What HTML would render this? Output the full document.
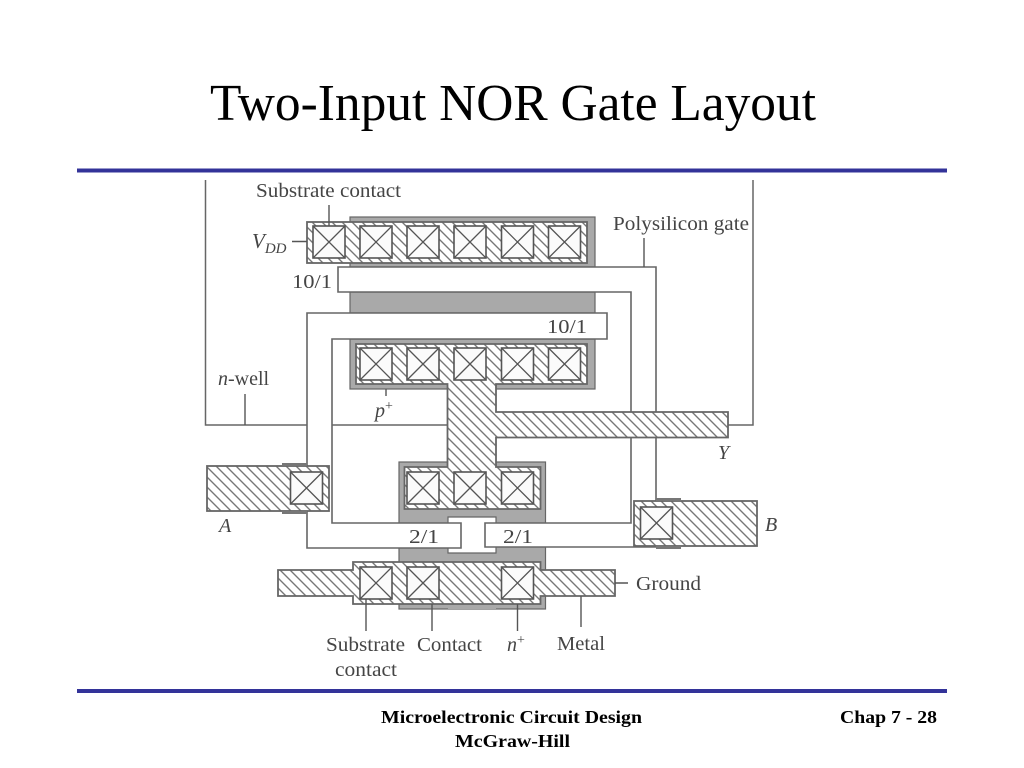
<!DOCTYPE html>
<html><head><meta charset="utf-8"><style>
html,body{margin:0;padding:0;background:#fff}
svg{display:block}
.l{font-family:"Liberation Serif",serif;font-size:20px;fill:#444}
.i{font-style:italic}
.t{font-family:"Liberation Serif",serif;font-size:52px;fill:#000}
.f{font-family:"Liberation Serif",serif;font-size:18px;font-weight:bold;fill:#000}
</style></head><body>
<svg width="1024" height="768" viewBox="0 0 1024 768" xmlns="http://www.w3.org/2000/svg">
<defs>
<pattern id="h" width="10" height="10" patternUnits="userSpaceOnUse">
<rect width="10" height="10" fill="#fff"/>
<path d="M-2 -2L12 12M-2 8L2 12M8 -2L12 2" stroke="#777" stroke-width="1.400"/>
</pattern>
<g id="c"><rect x="0" y="0" width="32" height="32" fill="#fbfbfb" stroke="#555" stroke-width="1.600"/><path d="M0 0L32 32M32 0L0 32" stroke="#555" stroke-width="1.300"/></g>
<filter id="b"><feGaussianBlur stdDeviation="0.35"/></filter>
</defs>

<text class="t" x="210" y="120" textLength="606" lengthAdjust="spacingAndGlyphs">Two-Input NOR Gate Layout</text>
<rect x="77" y="168.500" width="870" height="4" fill="#333399"/>
<rect x="77" y="689" width="870" height="4" fill="#333399"/>

<g filter="url(#b)">
<!-- n-well -->
<path d="M205.500 180V425H307M332 425H448M728 425H753V180" fill="none" stroke="#666" stroke-width="1.500"/>

<!-- gray diffusion -->
<g fill="#a9a9a9" stroke="#666" stroke-width="1.200">
<rect x="350" y="217" width="245" height="50"/>
<rect x="350" y="292" width="245" height="21"/>
<rect x="350" y="339" width="245" height="50"/>
<rect x="399" y="462" width="146.500" height="147"/>
</g>
<rect x="448" y="565" width="48" height="44" fill="#a9a9a9"/>

<!-- white cutouts for p+ area / center -->
<path d="M448 517H496V553H448Z" fill="#fff" stroke="#666" stroke-width="1.200"/>

<!-- polysilicon -->
<path d="M338 267H656V547H485V523H631V292H338Z" fill="#fff" stroke="#666" stroke-width="1.600"/>
<path d="M307 313H607V339H332V523H461V548H307Z" fill="#fff" stroke="#666" stroke-width="1.600"/>

<!-- metal -->
<g fill="url(#h)" stroke="#666" stroke-width="1.800">
<rect x="307" y="222" width="280" height="41"/>
<path d="M356 344H587V384H496V412H728V437.500H496V467H540.500V509H404.500V467H447.500V384H356Z"/>
<path d="M278 570H353V562H540.500V570H615V596H540.500V604H353V596H278Z"/>
<rect x="207" y="466" width="122" height="45"/>
<rect x="634" y="501" width="123" height="45"/>
</g>

<!-- dark tabs -->
<g fill="#777">
<rect x="282" y="463" width="25" height="3"/>
<rect x="282" y="511" width="25" height="3"/>
<rect x="656" y="498" width="25" height="3"/>
<rect x="656" y="546" width="25" height="3"/>
</g>

<!-- contacts -->
<use href="#c" x="313" y="226"/><use href="#c" x="360" y="226"/><use href="#c" x="407" y="226"/><use href="#c" x="454" y="226"/><use href="#c" x="501.500" y="226"/><use href="#c" x="548.500" y="226"/>
<use href="#c" x="360" y="348"/><use href="#c" x="407" y="348"/><use href="#c" x="454" y="348"/><use href="#c" x="501.500" y="348"/><use href="#c" x="548.500" y="348"/>
<use href="#c" x="407" y="472"/><use href="#c" x="454" y="472"/><use href="#c" x="501.500" y="472"/>
<use href="#c" x="360" y="567"/><use href="#c" x="407" y="567"/><use href="#c" x="501.500" y="567"/>
<use href="#c" x="290.500" y="472"/><use href="#c" x="640.500" y="507"/>

<!-- leaders -->
<path d="M329 205V226M292 241.500H307M644 238V267M245 394V425M386 389V396M615 583H628M581 596V627M366 599V631M432 604V631M517.500 604V631" stroke="#555" stroke-width="1.400" fill="none"/>

<!-- labels -->
<text class="l" x="256" y="197" textLength="145" lengthAdjust="spacingAndGlyphs">Substrate contact</text>
<text class="l" x="613" y="230" textLength="136" lengthAdjust="spacingAndGlyphs">Polysilicon gate</text>
<text class="l i" x="252" y="248" style="font-size:21px">V<tspan dy="5" style="font-size:15px">DD</tspan></text>
<text class="l" x="292" y="288" textLength="40" lengthAdjust="spacingAndGlyphs">10/1</text>
<text class="l" x="547" y="333" textLength="40" lengthAdjust="spacingAndGlyphs">10/1</text>
<text class="l" x="218" y="385"><tspan class="i">n</tspan>-well</text>
<text class="l i" x="375" y="417">p<tspan dy="-7" style="font-size:14px;font-style:normal">+</tspan></text>
<text class="l i" x="718" y="459">Y</text>
<text class="l i" x="219" y="532">A</text>
<text class="l i" x="765" y="531">B</text>
<text class="l" x="409" y="543" textLength="30" lengthAdjust="spacingAndGlyphs">2/1</text>
<text class="l" x="503" y="543" textLength="30" lengthAdjust="spacingAndGlyphs">2/1</text>
<text class="l" x="636" y="590" textLength="65" lengthAdjust="spacingAndGlyphs">Ground</text>
<text class="l" x="326" y="651" textLength="79" lengthAdjust="spacingAndGlyphs">Substrate</text>
<text class="l" x="335" y="676" textLength="62" lengthAdjust="spacingAndGlyphs">contact</text>
<text class="l" x="417" y="651" textLength="65" lengthAdjust="spacingAndGlyphs">Contact</text>
<text class="l i" x="507" y="651">n<tspan dy="-7" style="font-size:14px;font-style:normal">+</tspan></text>
<text class="l" x="557" y="650" textLength="48" lengthAdjust="spacingAndGlyphs">Metal</text>
</g>

<text class="f" x="381" y="723" textLength="261" lengthAdjust="spacingAndGlyphs">Microelectronic Circuit Design</text>
<text class="f" x="455" y="747" textLength="115" lengthAdjust="spacingAndGlyphs">McGraw-Hill</text>
<text class="f" x="840" y="723" textLength="97" lengthAdjust="spacingAndGlyphs">Chap 7 - 28</text>
</svg>
</body></html>
